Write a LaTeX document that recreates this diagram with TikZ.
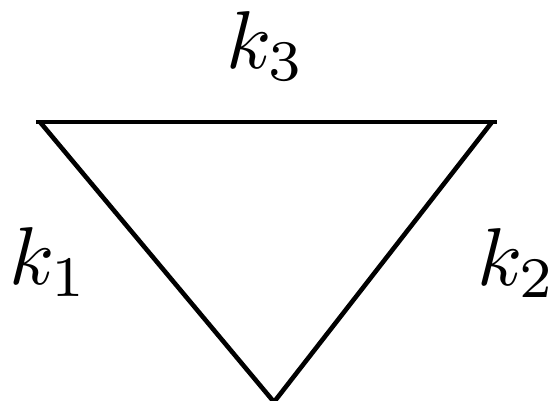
\documentclass[tikz,border=0pt]{standalone}
\begin{document}
\begin{tikzpicture}[x=0.25pt,y=-0.25pt,
  edge/.style={line width=1.15pt,line join=miter},
  lbl/.style={inner sep=0pt,scale=2.05}]
\useasboundingbox (0,0) rectangle (555,400);
\coordinate (a) at (36,122);
\coordinate (b) at (497,122);
\coordinate (c) at (274,402);
\coordinate (a2) at (40,122);
\coordinate (b2) at (492,122);
\draw[edge] (a) -- (b);
\draw[edge] (a2) -- (c) -- (b2);
\node[lbl] (k3) at (266,46) {$k_3$};
\node[lbl] (k1) at (49,262) {$k_1$};
\node[lbl] (k2) at (517,263) {$k_2$};
\end{tikzpicture}
\end{document}
